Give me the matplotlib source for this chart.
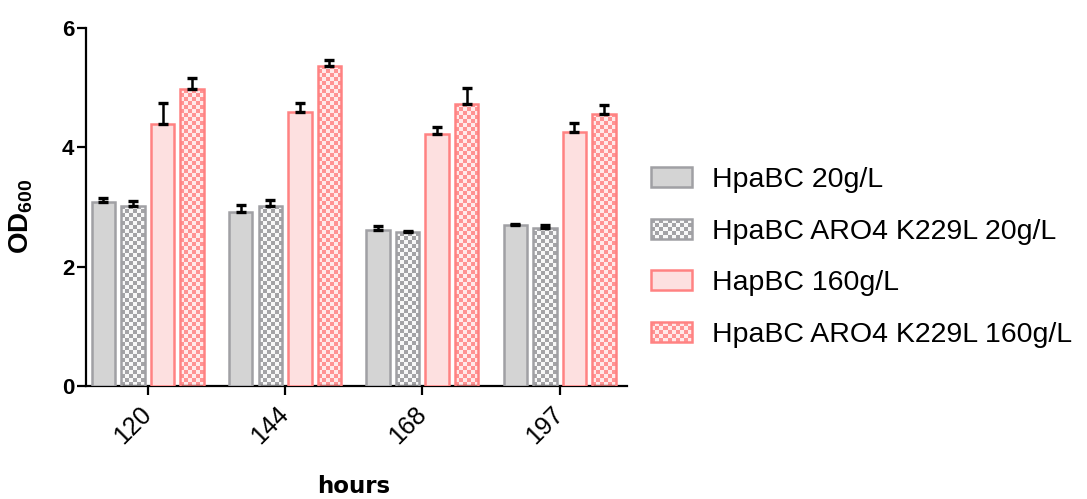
import numpy as np
import matplotlib
matplotlib.use("Agg")
import matplotlib.pyplot as plt
from matplotlib.patches import Rectangle, Patch
from matplotlib.legend_handler import HandlerBase

# ---- data -------------------------------------------------------------
hours = ["120", "144", "168", "197"]
series_labels = ["HpaBC 20g/L", "HpaBC ARO4 K229L 20g/L",
                 "HapBC 160g/L", "HpaBC ARO4 K229L 160g/L"]

hpabc_20 = [3.09, 2.92, 2.61, 2.69]
hpabc_20_err = [0.06, 0.12, 0.07, 0.03]
aro4_20 = [3.02, 3.02, 2.58, 2.65]
aro4_20_err = [0.08, 0.09, 0.02, 0.05]
hapbc_160 = [4.39, 4.59, 4.22, 4.26]
hapbc_160_err = [0.35, 0.16, 0.12, 0.15]
aro4_160 = [4.97, 5.37, 4.73, 4.56]
aro4_160_err = [0.19, 0.09, 0.26, 0.15]

# ---- styles -----------------------------------------------------------
GRAY_EDGE = "#a0a0a4"
GRAY_FILL = "#d4d4d4"
GRAY_DARK = "#a3a3a6"
PINK_EDGE = "#ff8282"
PINK_FILL = "#fde0e0"
PINK_DARK = "#ff9393"
LIGHT = "#f8f8f8"
PINK_LIGHT = "#ffeaea"

styles = [
    dict(edge=GRAY_EDGE, fill=GRAY_FILL, checker=None),
    dict(edge=GRAY_EDGE, fill=None, checker=(GRAY_DARK, LIGHT)),
    dict(edge=PINK_EDGE, fill=PINK_FILL, checker=None),
    dict(edge=PINK_EDGE, fill=None, checker=(PINK_DARK, PINK_LIGHT)),
]
values = [hpabc_20, aro4_20, hapbc_160, aro4_160]
errors = [hpabc_20_err, aro4_20_err, hapbc_160_err, aro4_160_err]

CELL_PX = 4.0

plt.rcParams["mathtext.fontset"] = "custom"
plt.rcParams["mathtext.rm"] = "Liberation Sans"
plt.rcParams["mathtext.bf"] = "Liberation Sans:bold"

fig = plt.figure(figsize=(10.87, 4.99), dpi=100)
ax = fig.add_axes([0.0791, 0.2265, 0.4977, 0.7174])
XLIM = (-0.45, 3.49)
YLIM = (0, 6)
ax.set_xlim(*XLIM)
ax.set_ylim(*YLIM)

px_per_x = ax.bbox.width / (XLIM[1] - XLIM[0])
px_per_y = ax.bbox.height / (YLIM[1] - YLIM[0])


def checker_image(ncols, nrows, dark, light):
    d = np.array(matplotlib.colors.to_rgba(dark))
    l = np.array(matplotlib.colors.to_rgba(light))
    rr, cc = np.meshgrid(np.arange(nrows), np.arange(ncols), indexing="ij")
    mask = ((rr + cc) % 2 == 0)[..., None]
    return np.where(mask, d, l)


x = np.arange(len(hours))
pitch = 0.215
width = 0.17

for i, (vals, errs, st) in enumerate(zip(values, errors, styles)):
    pos = x + (i - 1.5) * pitch
    bars = ax.bar(pos, vals, width,
                  facecolor=st["fill"] if st["fill"] else "none",
                  edgecolor=st["edge"], linewidth=1.8, zorder=3)
    if st["checker"]:
        dark, light = st["checker"]
        for b in bars:
            bx, by = b.get_x(), b.get_y()
            bw, bh = b.get_width(), b.get_height()
            nc = max(1, int(round(bw * px_per_x / CELL_PX)))
            nr = max(1, int(round(bh * px_per_y / CELL_PX)))
            img = ax.imshow(checker_image(nc, nr, dark, light),
                            extent=(bx, bx + bw, by, by + bh),
                            origin="lower", interpolation="nearest",
                            aspect="auto", zorder=2)
            img.set_clip_path(b)
    ax.errorbar(pos, vals, yerr=[np.zeros(len(vals)), errs], fmt="none",
                ecolor="black", elinewidth=1.8, capsize=3.8, capthick=2.4,
                zorder=4)

ax.set_xlim(*XLIM)
ax.set_ylim(*YLIM)

# ---- axes styling -----------------------------------------------------
for side in ("top", "right"):
    ax.spines[side].set_visible(False)
for side in ("left", "bottom"):
    ax.spines[side].set_linewidth(1.6)
    ax.spines[side].set_color("black")

ax.set_yticks([0, 2, 4, 6])
ax.set_yticklabels(["0", "2", "4", "6"], fontfamily="Liberation Sans",
                   fontweight="bold", fontsize=16)
ax.set_xticks(x)
ax.set_xticklabels(hours, fontfamily="Liberation Sans", fontsize=18,
                   rotation=45, ha="right", va="center",
                   rotation_mode="anchor")
ax.tick_params(axis="both", direction="out", length=6.5, width=1.6,
               color="black")
ax.tick_params(axis="y", pad=2)
ax.tick_params(axis="x", pad=11)

ax.set_ylabel(r"$\mathbf{OD_{600}}$", fontsize=20)
ax.yaxis.set_label_coords(-0.094, 0.475)
ax.set_xlabel("hours", fontfamily="DejaVu Sans", fontweight="bold",
              fontsize=16.5)
ax.xaxis.set_label_coords(0.495, -0.25)


# ---- legend -----------------------------------------------------------
class CheckerHandler(HandlerBase):
    def __init__(self, dark, light, edge):
        super().__init__()
        self.dark, self.light, self.edge = dark, light, edge

    def create_artists(self, legend, orig_handle, xdescent, ydescent,
                       width, height, fontsize, trans):
        cell_pt = CELL_PX * 72.0 / fig.dpi
        nc = max(1, int(round(width / cell_pt)))
        nr = max(1, int(round(height / cell_pt)))
        cw, ch = width / nc, height / nr
        arts = []
        for r in range(nr):
            for c in range(nc):
                col = self.dark if (r + c) % 2 == 0 else self.light
                arts.append(Rectangle((-xdescent + c * cw, -ydescent + r * ch),
                                      cw, ch, facecolor=col, edgecolor="none",
                                      transform=trans))
        arts.append(Rectangle((-xdescent, -ydescent), width, height,
                              facecolor="none", edgecolor=self.edge,
                              linewidth=1.8, transform=trans))
        return arts


handles = []
handler_map = {}
for st, lab in zip(styles, series_labels):
    h = Patch(facecolor=st["fill"] if st["fill"] else "white",
              edgecolor=st["edge"], linewidth=1.8, label=lab)
    handles.append(h)
    if st["checker"]:
        handler_map[h] = CheckerHandler(st["checker"][0], st["checker"][1],
                                        st["edge"])

leg = fig.legend(handles=handles, labels=series_labels,
                 handler_map=handler_map, loc="center left",
                 bbox_to_anchor=(0.599, 0.484), frameon=False,
                 prop={"family": "Liberation Sans", "size": 20.5},
                 handlelength=1.45, handleheight=0.7, handletextpad=0.7,
                 labelspacing=0.9, borderpad=0, borderaxespad=0)

fig.savefig("out.png", dpi=100)
